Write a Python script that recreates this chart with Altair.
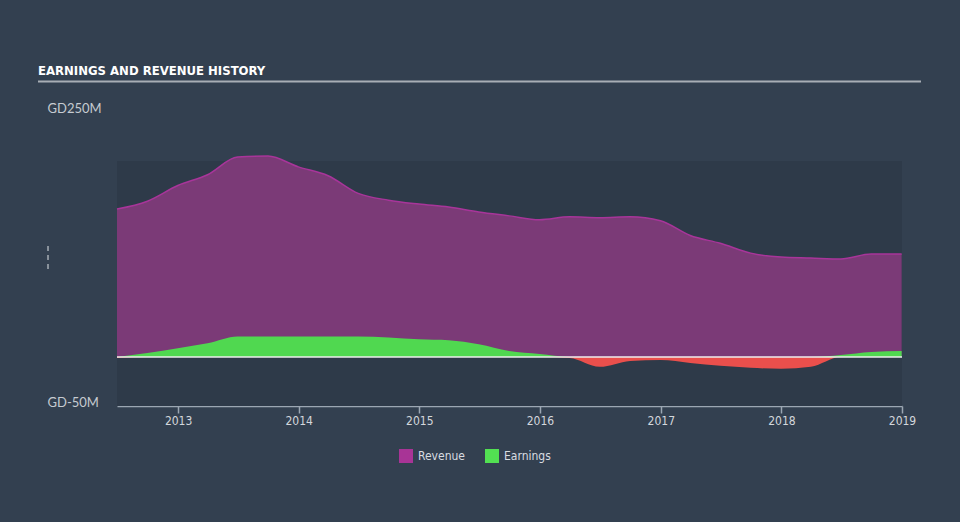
import altair as alt
import pandas as pd

# ---- data ----
dates = [
    "2012-06-30", "2012-09-30", "2012-12-31", "2013-03-31", "2013-06-30", "2013-09-30",
    "2013-12-31", "2014-03-31", "2014-06-30", "2014-09-30", "2014-12-31", "2015-03-31",
    "2015-06-30", "2015-09-30", "2015-12-31", "2016-03-31", "2016-06-30", "2016-09-30",
    "2016-12-31", "2017-03-31", "2017-06-30", "2017-09-30", "2017-12-31", "2018-03-31",
    "2018-06-30", "2018-09-30", "2018-12-31",
]
revenue = [151, 159, 175, 186, 204, 205, 194, 185, 167, 160, 156, 153, 148, 144, 140,
           143, 142, 143, 139, 124, 116, 106, 102, 101, 100, 105, 105]
earnings = [-1, 4, 9, 14, 21, 21, 21, 21, 21, 20, 18, 17, 13, 6, 3,
            -1, -10, -4, -3, -6, -9, -11, -12, -10, 2, 5, 6]
series_names = ["Revenue", "Earnings"]
series_colors = ["#a83496", "#52e052"]
x_tick_years = [2013, 2014, 2015, 2016, 2017, 2018, 2019]
y_tick_values = [-50, 250]
title_text = "EARNINGS AND REVENUE HISTORY"

df = pd.DataFrame({"date": pd.to_datetime(dates), "revenue": revenue, "earnings": earnings})
df["earn_pos"] = df["earnings"].clip(lower=0)
df["earn_neg"] = df["earnings"].clip(upper=0)

W, H = 785, 294
NARROW = "Liberation Sans Narrow, DejaVu Sans Condensed, sans-serif"

x_axis = alt.Axis(
    values=[alt.DateTime(year=y, month=1, date=1) for y in x_tick_years],
    format="%Y", title=None, grid=False,
    labelFont=NARROW, labelFontSize=12, labelColor="#d3d7dc",
    domainColor="#9ba6b2", domainWidth=1.5, tickColor="#9ba6b2", tickWidth=1.5,
    tickSize=7, labelPadding=2, labelFlush=False,
)
y_axis = alt.Axis(
    values=y_tick_values, labelExpr="'GD' + datum.value + 'M'", title=None, grid=False,
    domain=False, ticks=False, tickSize=0, labelAlign="left", labelPadding=70,
    labelBaseline="alphabetic", labelFont="Lato", labelFontSize=13, labelColor="#c6cbd1",
)
x_scale = alt.Scale(domain=[alt.DateTime(year=2012, month=6, date=30),
                            alt.DateTime(year=2019, month=1, date=1)])
y_scale = alt.Scale(domain=[-50, 250], nice=False, zero=False)

X = alt.X("date:T", scale=x_scale, axis=x_axis)

one = pd.DataFrame({"lo": [-50], "hi": [200], "z": [0]})

bg = alt.Chart(one).mark_rect(color="#2e3a49").encode(
    x=alt.value(0), x2=alt.value(W),
    y=alt.Y("lo:Q", scale=y_scale, axis=y_axis), y2="hi:Q",
)

rev_area = alt.Chart(df).mark_area(color="#7b3a77", interpolate="monotone").encode(
    x=X, y=alt.Y("revenue:Q", scale=y_scale, axis=y_axis),
)
rev_line = alt.Chart(df).mark_line(color="#a8359a", strokeWidth=1.5, interpolate="monotone").encode(
    x=X, y=alt.Y("revenue:Q", scale=y_scale, axis=y_axis),
)
earn_pos = alt.Chart(df).mark_area(color="#50d850", interpolate="monotone").encode(
    x=X, y=alt.Y("earn_pos:Q", scale=y_scale, axis=y_axis),
)
earn_neg = alt.Chart(df).mark_area(color="#ea4f4c", interpolate="monotone").encode(
    x=X, y=alt.Y("earn_neg:Q", scale=y_scale, axis=y_axis),
)
zero = alt.Chart(one).mark_rule(color="#eeeeee", strokeWidth=1.5).encode(
    y=alt.Y("z:Q", scale=y_scale, axis=y_axis),
)

legend_df = pd.DataFrame({"series": series_names})
legend_layer = alt.Chart(legend_df).mark_square(clip=True, size=10).encode(
    x=alt.value(-500), y=alt.value(-500),
    color=alt.Color(
        "series:N",
        scale=alt.Scale(domain=series_names, range=series_colors),
        legend=alt.Legend(
            orient="none", legendX=282, legendY=337, direction="horizontal", title=None,
            symbolType="square", symbolSize=196, symbolStrokeWidth=0, symbolOpacity=1,
            labelFont=NARROW, labelFontSize=12, labelColor="#d8dce0",
            columnPadding=20, labelOffset=5, padding=0,
        ),
    ),
)

title = alt.Chart(one).mark_text(
    text=title_text, align="left", baseline="alphabetic", font=NARROW,
    fontSize=13, fontWeight="bold", color="#ffffff",
).encode(x=alt.value(-79), y=alt.value(-37))

underline = alt.Chart(one).mark_rule(color="#a8aeb5", strokeWidth=2).encode(
    x=alt.value(-79), x2=alt.value(804), y=alt.value(-30.5),
)

dashes = alt.Chart(one).mark_rule(color="#dfe3e6", strokeWidth=1, strokeDash=[5, 4]).encode(
    x=alt.value(-69), y=alt.value(134), y2=alt.value(157),
)

chart = alt.layer(
    bg, rev_area, rev_line, earn_pos, earn_neg, zero, legend_layer, title, underline, dashes
).properties(
    width=W, height=H, background="#334050",
    padding={"left": 117, "top": 112, "right": 58, "bottom": 116},
    autosize=alt.AutoSizeParams(type="none"),
).configure_view(stroke=None)

chart.save("out.html", embed_options={"renderer": "svg", "actions": False})
